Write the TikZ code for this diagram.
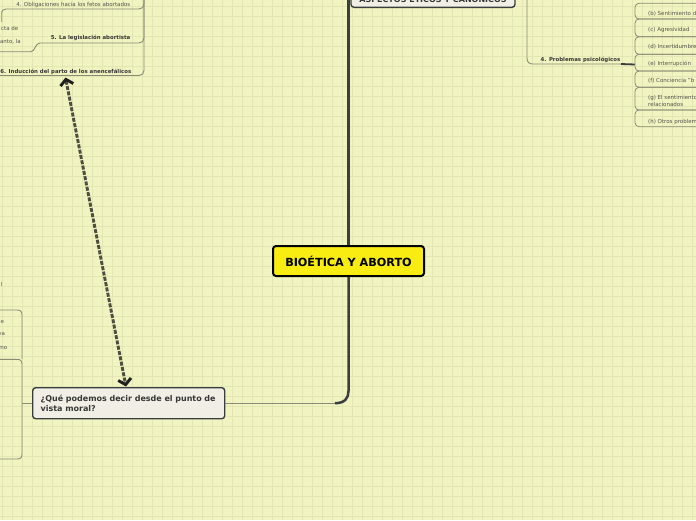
\documentclass[tikz,border=0pt]{standalone}
\usepackage{fontspec}
\setmainfont{DejaVu Sans}
\usetikzlibrary{arrows.meta}
\definecolor{bg}{RGB}{241,243,193}
\definecolor{gridc}{RGB}{226,230,178}
\definecolor{mainc}{RGB}{58,62,62}
\definecolor{thinc}{RGB}{138,140,116}
\definecolor{boxfill}{RGB}{241,239,229}
\definecolor{cyellow}{RGB}{248,236,18}
\definecolor{txtc}{RGB}{55,55,55}
\definecolor{smallc}{RGB}{85,85,78}
\definecolor{arrowc}{RGB}{78,78,66}
\tikzset{
  central/.style={draw=black, line width=2pt, fill=cyellow, rounded corners=3pt,
    minimum width=151pt, minimum height=30pt, inner sep=0pt,
    font=\fontsize{11.2}{13}\selectfont\bfseries, text=black},
  topicbox/.style={draw=mainc, line width=1.4pt, fill=boxfill, rounded corners=3pt,
    font=\fontsize{8}{10}\selectfont\bfseries, text=txtc},
  thinline/.style={draw=thinc, line width=0.9pt},
  mainline/.style={draw=mainc, line width=2.5pt},
  small/.style={font=\fontsize{5.5}{6.8}\selectfont, text=smallc, inner sep=0pt, anchor=base west},
  smallr/.style={font=\fontsize{5.5}{6.8}\selectfont, text=smallc, inner sep=0pt, anchor=base east},
  lab/.style={font=\fontsize{5.4}{6.5}\selectfont\bfseries, text=txtc, inner sep=0pt},
  itembox/.style={draw=thinc, line width=0.8pt, rounded corners=4pt},
}
\begin{document}
\begin{tikzpicture}[x=1pt,y=-1pt]
\useasboundingbox (0,0) rectangle (696,520);
\clip (0,0) rectangle (696,520);
\fill[bg] (0,0) rectangle (696,520);
\foreach \i in {0,...,69} \draw[gridc, line width=0.7pt] (2.7+\i*10,0) -- ++(0,520);
\foreach \j in {0,...,51} \draw[gridc, line width=0.7pt] (0,6.7+\j*10) -- ++(696,0);

% ---------- main nodes ----------
\node[central] (root) at (348.5,261) {BIOÉTICA Y ABORTO};
\node[topicbox, anchor=south, minimum width=164pt, text height=5.8pt, text depth=0pt, inner ysep=5.3pt] (aspectos) at (433,8) {ASPECTOS ÉTICOS Y CANÓNICOS};
\node[topicbox, minimum width=192pt, minimum height=31pt, text width=176pt, align=left, inner xsep=8pt, inner ysep=4pt] (que) at (128.7,403.2) {¿Qué podemos decir desde el punto de\\vista moral?};

% ---------- main connectors ----------
\draw[mainline] (root.north) -- (root.north |- aspectos.north);
\draw[mainline] (root.south) -- (348.5,391) .. controls (348.5,398) and (345,403.2) .. (335,403.2);
\draw[thinline] (335,403.2) -- (que.east);

% ---------- right branch: 4. Problemas psicologicos ----------
\draw[thinline] (527,-2) -- (527,58) .. controls (527,62) and (529,64) .. (533,64) -- (621,64);
\node[lab, anchor=base] (probl) at (580.5,61.3) {4. Problemas psicológicos};
\coordinate (brk) at (635,64.5);
\draw[draw=mainc, line width=1.8pt] (621,64) -- (brk);
\draw[itembox] (720,3.3) -- (635,3.3) -- (635,19) -- (720,19);
\draw[itembox] (720,19) -- (635,19) -- (635,36.7) -- (720,36.7);
\draw[itembox] (720,36.7) -- (635,36.7) -- (635,54.3) -- (720,54.3);
\draw[itembox] (720,54.3) -- (635,54.3) -- (635,71) -- (720,71);
\draw[itembox] (720,71) -- (635,71) -- (635,87.3) -- (720,87.3);
\draw[itembox] (720,87.3) -- (635,87.3) -- (635,110) -- (720,110);
\draw[itembox] (720,110) -- (635,110) -- (635,126.7) -- (720,126.7);
\node[small] (ib) at (648,15.2) {(b) Sentimiento de};
\node[small] (ic) at (648,31.9) {(c) Agresividad};
\node[small] (id) at (648,48.6) {(d) Incertidumbre};
\node[small] (ie) at (648,65.9) {(e) Interrupción};
\node[small] (if) at (648,82.2) {(f) Conciencia "b};
\node[small] (ig) at (648,99.6) {(g) El sentimiento};
\node[small] (ig2) at (648,106.3) {relacionados};
\node[small] (ih) at (648,123.6) {(h) Otros problemas};

% ---------- top-left branches ----------
\draw[thinline] (1.7,22) -- (1.7,14) .. controls (1.7,10.5) and (3,9) .. (6,9) -- (139,9) .. controls (142,9) and (144,7) .. (144,4) -- (144,-2);
\draw[thinline] (-2,51.7) -- (31,51.7) .. controls (35,51.7) and (35,43) .. (40,43) -- (139,43) .. controls (142,43) and (144,41) .. (144,38) -- (144,-2);
\draw[thinline] (-2,75.5) -- (139,75.5) .. controls (142,75.5) and (144,73.5) .. (144,70.5) -- (144,-2);
\node[smallr] (obl) at (130.5,6.2) {4. Obligaciones hacia los fetos abortados};
\node[smallr] (f1) at (18.5,30.2) {cta de};
\node[smallr] (f2) at (21,43.5) {anto, la};
\node[lab, anchor=base east] (legis) at (130.5,39.7) {5. La legislación abortista};
\node[lab, anchor=base east] (indu) at (131.5,73) {6. Inducción del parto de los anencefálicos};

% ---------- left-middle brackets ----------
\node[smallr] (f3) at (2.8,286) {l};
\draw[thinline] (-2,310) -- (17,310) .. controls (20.5,310) and (22,311.5) .. (22,315) -- (22,359);
\draw[thinline] (-2,359.3) -- (17,359.3) .. controls (20.5,359.3) and (22,360.8) .. (22,364.3) -- (22,454) .. controls (22,457.5) and (20.5,459) .. (17,459) -- (-2,459);
\draw[thinline] (22,403.2) -- (que.west);
\node[smallr] (f4) at (4.2,323) {e};
\node[smallr] (f5) at (5.2,335.5) {ya};
\node[smallr] (f6) at (7.5,349) {rno};

% ---------- dashed double arrow ----------
\coordinate (a1) at (65.5,77.5);
\coordinate (a2) at (126,386.5);
\draw[draw=arrowc, line width=2.9pt, dash pattern=on 4pt off 1.4pt,
  {Straight Barb[length=5.5pt,width=13pt,color=black!88]}-{Straight Barb[length=5.5pt,width=13pt,color=black!88]}] (a1) -- (a2);
\end{tikzpicture}
\end{document}
